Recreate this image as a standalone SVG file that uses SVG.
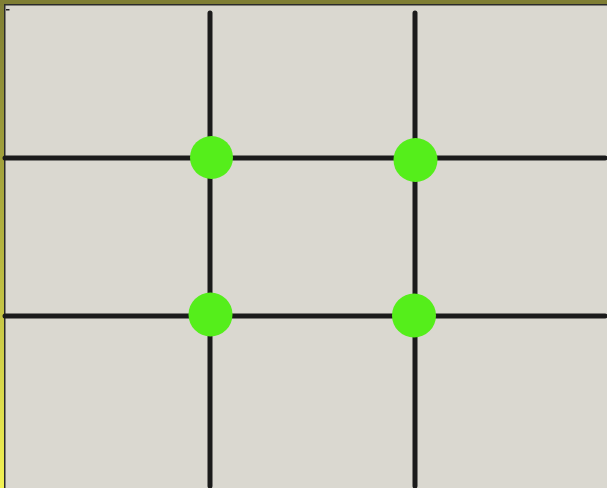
<svg xmlns="http://www.w3.org/2000/svg" width="607" height="488" viewBox="0 0 607 488">
  <defs>
    <linearGradient id="side" x1="0" y1="0" x2="0" y2="1">
      <stop offset="0" stop-color="#7f7e34"/>
      <stop offset="0.5" stop-color="#b4b440"/>
      <stop offset="1" stop-color="#f2f254"/>
    </linearGradient>
    <style>
      .grid { stroke: #1b1b1b; stroke-width: 5; stroke-linecap: round; fill: none; }
      .dot { fill: #55ee1b; }
    </style>
  </defs>
  <rect x="0" y="0" width="607" height="488" fill="#dad8d0"/>
  <rect x="0" y="0" width="607" height="4" fill="#7f7e34"/>
  <rect x="0" y="0" width="4" height="488" fill="url(#side)"/>
  <rect x="4" y="4" width="603" height="1.5" fill="#2a2a2a"/>
  <rect x="4" y="4" width="1.5" height="484" fill="#2a2a2a"/>
  <rect x="6" y="9" width="3.5" height="1.5" fill="#222"/>
  <g id="connectors">
    <line class="grid" x1="210" y1="13" x2="210" y2="486"/>
    <line class="grid" x1="415" y1="13" x2="415" y2="486"/>
    <line class="grid" x1="5" y1="158" x2="605" y2="158"/>
    <line class="grid" x1="5" y1="316" x2="605" y2="316"/>
  </g>
  <g id="n1"><circle class="dot" cx="211.5" cy="157.5" r="21.5"/></g>
  <g id="n2"><circle class="dot" cx="415.5" cy="160" r="22"/></g>
  <g id="n3"><circle class="dot" cx="210.5" cy="314.5" r="22"/></g>
  <g id="n4"><circle class="dot" cx="414" cy="315.5" r="22"/></g>
</svg>
